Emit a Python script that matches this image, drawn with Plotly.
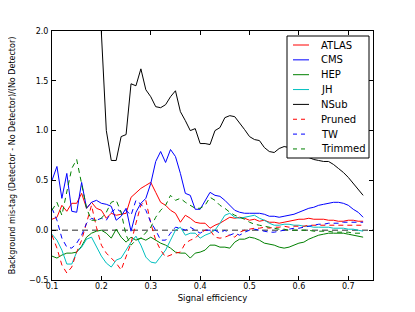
import plotly.graph_objects as go

efficiency = [0.10, 0.11, 0.12, 0.13, 0.14, 0.15, 0.16, 0.17, 0.18, 0.19,
              0.20, 0.21, 0.22, 0.23, 0.24, 0.25, 0.26, 0.27, 0.28, 0.29,
              0.30, 0.31, 0.32, 0.33, 0.34, 0.35, 0.36, 0.37, 0.38, 0.39,
              0.40, 0.41, 0.42, 0.43, 0.44, 0.45, 0.46, 0.47, 0.48, 0.49,
              0.50, 0.51, 0.52, 0.53, 0.54, 0.55, 0.56, 0.57, 0.58, 0.59,
              0.60, 0.61, 0.62, 0.63, 0.64, 0.65, 0.66, 0.67, 0.68, 0.69,
              0.70, 0.71, 0.72, 0.73]

atlas = [0.11, 0.13, 0.25, 0.19, 0.27, 0.27, 0.37, 0.22, 0.28, 0.22,
         0.20, 0.12, 0.17, 0.15, 0.16, 0.17, 0.33, 0.38, 0.42, 0.45,
         0.48, 0.38, 0.28, 0.25, 0.20, 0.17, 0.08, 0.15, 0.12, 0.08,
         0.07, 0.07, 0.02, 0.05, 0.07, 0.10, 0.13, 0.12, 0.13, 0.12,
         0.10, 0.11, 0.09, 0.10, 0.08, 0.08, 0.07, 0.08, 0.09, 0.10,
         0.11, 0.11, 0.12, 0.11, 0.11, 0.11, 0.10, 0.10, 0.09, 0.09,
         0.10, 0.10, 0.09, 0.09]

cms = [0.50, 0.64, 0.32, 0.57, 0.19, 0.18, 0.48, 0.22, 0.28, 0.30,
       0.27, 0.26, 0.24, 0.10, 0.14, 0.22, -0.01, 0.18, 0.27, 0.32,
       0.47, 0.69, 0.79, 0.68, 0.81, 0.74, 0.57, 0.37, 0.35, 0.21,
       0.21, 0.30, 0.38, 0.35, 0.34, 0.30, 0.25, 0.20, 0.18, 0.17,
       0.17, 0.17, 0.17, 0.16, 0.14, 0.14, 0.13, 0.14, 0.15, 0.16,
       0.18, 0.20, 0.22, 0.23, 0.25, 0.26, 0.27, 0.28, 0.28, 0.27,
       0.25, 0.21, 0.18, 0.13]

hep = [-0.26, -0.28, -0.25, -0.23, -0.23, -0.22, -0.16, -0.07, -0.03, -0.01,
       0.00, -0.03, -0.08, 0.01, -0.07, -0.12, -0.07, -0.10, -0.08, -0.10,
       -0.07, -0.10, -0.13, -0.15, -0.18, -0.22, -0.23, -0.23, -0.28, -0.23,
       -0.22, -0.20, -0.15, -0.15, -0.17, -0.17, -0.18, -0.12, -0.09, -0.09,
       -0.07, -0.08, -0.10, -0.13, -0.14, -0.15, -0.17, -0.18, -0.17, -0.15,
       -0.13, -0.12, -0.09, -0.07, -0.05, -0.04, -0.03, -0.03, -0.03, -0.03,
       -0.04, -0.05, -0.06, -0.07]

jh = [-0.04, -0.10, -0.20, -0.34, -0.34, -0.22, -0.17, -0.09, -0.07, -0.17,
      -0.26, -0.33, -0.37, -0.30, -0.28, -0.20, -0.12, -0.06, -0.15, -0.27,
      -0.32, -0.33, -0.27, -0.20, -0.10, 0.00, 0.03, -0.05, -0.03, -0.03,
      -0.08, -0.05, -0.03, 0.00, 0.07, 0.15, 0.17, 0.13, 0.12, 0.13,
      0.14, 0.15, 0.12, 0.10, 0.07, 0.05, 0.05, 0.06, 0.06, 0.05,
      0.05, 0.04, 0.04, 0.03, 0.03, 0.03, 0.03, 0.02, 0.02, 0.02,
      0.01, 0.01, 0.00, -0.01]

nsub = [None, None, None, None, None, None, None, None, None, 4.00,
        1.98, 1.00, 0.70, 0.70, 0.94, 0.96, 1.47, 1.45, 1.62, 1.41,
        1.34, 1.24, 1.23, 1.26, 1.34, 1.40, 1.19, 1.10, 1.00, 1.02,
        0.87, 0.87, 0.86, 1.00, 1.03, 1.13, 1.15, 1.14, 1.08, 1.01,
        0.94, 0.91, 0.90, 0.83, 0.79, 0.78, 0.82, 0.84, 0.83, 0.80,
        0.77, 0.74, 0.73, 0.71, 0.70, 0.69, 0.69, 0.66, 0.62, 0.58,
        0.53, 0.47, 0.41, 0.35]

pruned = [-0.05, -0.18, -0.35, -0.43, -0.37, -0.22, -0.10, 0.07, 0.25, 0.03,
          -0.15, -0.23, -0.28, -0.33, -0.40, -0.27, -0.13, 0.07, 0.25, 0.30,
          0.07, -0.10, -0.20, -0.27, -0.25, -0.23, -0.22, -0.13, -0.10, -0.08,
          -0.03, 0.00, 0.00, -0.07, -0.08, -0.07, -0.05, -0.07, -0.02, 0.00,
          0.01, 0.02, 0.02, 0.03, 0.02, 0.03, 0.03, 0.04, 0.03, 0.04,
          0.04, 0.04, 0.05, 0.05, 0.05, 0.05, 0.05, 0.05, 0.05, 0.05,
          0.05, 0.05, 0.05, 0.05]

tw = [0.22, 0.10, -0.08, -0.17, -0.18, -0.13, -0.05, 0.07, 0.12, 0.10,
      0.12, 0.10, 0.18, 0.22, 0.18, 0.20, 0.15, 0.30, 0.26, 0.20,
      0.08, 0.00, -0.10, -0.10, -0.03, 0.03, 0.02, 0.00, 0.03, 0.00,
      -0.03, 0.00, 0.00, 0.00, -0.03, 0.00, -0.05, -0.03, -0.05, -0.02,
      0.00, 0.01, 0.00, -0.01, -0.02, -0.02, -0.01, 0.00, 0.01, 0.02,
      0.02, 0.03, 0.04, 0.05, 0.06, 0.06, 0.07, 0.07, 0.07, 0.08,
      0.08, 0.08, 0.08, 0.08]

trimmed = [0.20, 0.28, 0.15, 0.40, 0.62, 0.71, 0.48, 0.22, 0.10, 0.10,
           0.12, 0.18, 0.28, 0.30, 0.18, -0.05, -0.15, -0.10, -0.08, -0.02,
           0.03, 0.13, 0.20, 0.25, 0.35, 0.30, 0.32, 0.28, 0.25, 0.22,
           0.22, 0.25, 0.33, 0.30, 0.25, 0.22, 0.18, 0.15, 0.13, 0.11,
           0.08, 0.06, 0.05, 0.04, 0.03, 0.02, 0.01, 0.01, 0.00, 0.00,
           0.00, 0.00, 0.00, -0.01, -0.01, -0.01, -0.01, -0.02, -0.02, -0.02,
           -0.02, -0.03, -0.03, -0.03]

series_names = ["ATLAS", "CMS", "HEP", "JH", "NSub", "Pruned", "TW", "Trimmed"]
series_values = [atlas, cms, hep, jh, nsub, pruned, tw, trimmed]
series_colors = ["#ff0000", "#0000ff", "#008000", "#00bfbf", "#000000",
                 "#ff0000", "#0000ff", "#008000"]
series_dash = ["solid"] * 5 + ["5px,4px"] * 3

x_ticks = [0.1, 0.2, 0.3, 0.4, 0.5, 0.6, 0.7]
y_ticks = [-0.5, 0.0, 0.5, 1.0, 1.5, 2.0]

FONT = "DejaVu Sans, Arial, sans-serif"
OFF = 8                         # default body margin of the html page
W, H = 415 - 2 * OFF, 312 - 2 * OFF
# plot area in page pixels
L, R, T, B = 52, 373, 31, 280

fig = go.Figure()

fig.add_shape(type="line", xref="paper", yref="y", x0=0, x1=1, y0=0, y1=0,
              line=dict(color="#707070", width=1.5, dash="6px,4px"), layer="below")

for name, vals, col, dsh in zip(series_names, series_values, series_colors, series_dash):
    fig.add_trace(go.Scatter(x=efficiency, y=vals, mode="lines", name=name,
                             line=dict(color=col, width=1, dash=dsh),
                             showlegend=False, connectgaps=False))

# manual legend (matplotlib-like compact box)
def px2paper(px, py):
    return (px - L) / (R - L), (B - py) / (B - T)

bx0, by0 = px2paper(287, 36)
bx1, by1 = px2paper(369, 158)
fig.add_shape(type="rect", xref="paper", yref="paper", x0=bx0, x1=bx1, y0=by1, y1=by0,
              line=dict(color="black", width=1), fillcolor="white", layer="above")
for i, (name, col, dsh) in enumerate(zip(series_names, series_colors, series_dash)):
    py = 45 + 14.85 * i
    lx0, ly = px2paper(293, py)
    lx1, _ = px2paper(309, py)
    fig.add_shape(type="line", xref="paper", yref="paper", x0=lx0, x1=lx1, y0=ly, y1=ly,
                  line=dict(color=col, width=1, dash=("solid" if dsh == "solid" else "4px,4px")),
                  layer="above")
    tx, _ = px2paper(319, py)
    fig.add_annotation(x=tx, y=ly, xref="paper", yref="paper", text=name, showarrow=False,
                       xanchor="left", yanchor="middle", font=dict(size=10, color="black", family=FONT))

axis_common = dict(showline=True, linecolor="black", linewidth=1, mirror="ticks",
                   ticks="inside", ticklen=4, tickcolor="black", showgrid=False,
                   zeroline=False, automargin=False,
                   tickfont=dict(size=8, color="black", family=FONT))

fig.update_layout(
    width=W, height=H,
    margin=dict(l=L - OFF, r=W - (R - OFF), t=T - OFF, b=H - (B - OFF), autoexpand=False),
    paper_bgcolor="white", plot_bgcolor="white",
    font=dict(family=FONT, color="black"),
    xaxis=dict(range=[0.1, 0.75], tickvals=x_ticks, ticktext=[f"{v:.1f}" for v in x_ticks],
               ticklabelstandoff=-2,
               title=dict(text="Signal efficiency", font=dict(size=8.5), standoff=5),
               **axis_common),
    yaxis=dict(range=[-0.5, 2.0], tickvals=y_ticks,
               ticktext=[f"{v:.1f}".replace("-", "\u2212") for v in y_ticks],
               ticklabelstandoff=1,
               title=dict(text="Background mis-tag (Detector - No Detector)/(No Detector)",
                          font=dict(size=8), standoff=25),
               **axis_common),
)

fig.write_html("out.html")
